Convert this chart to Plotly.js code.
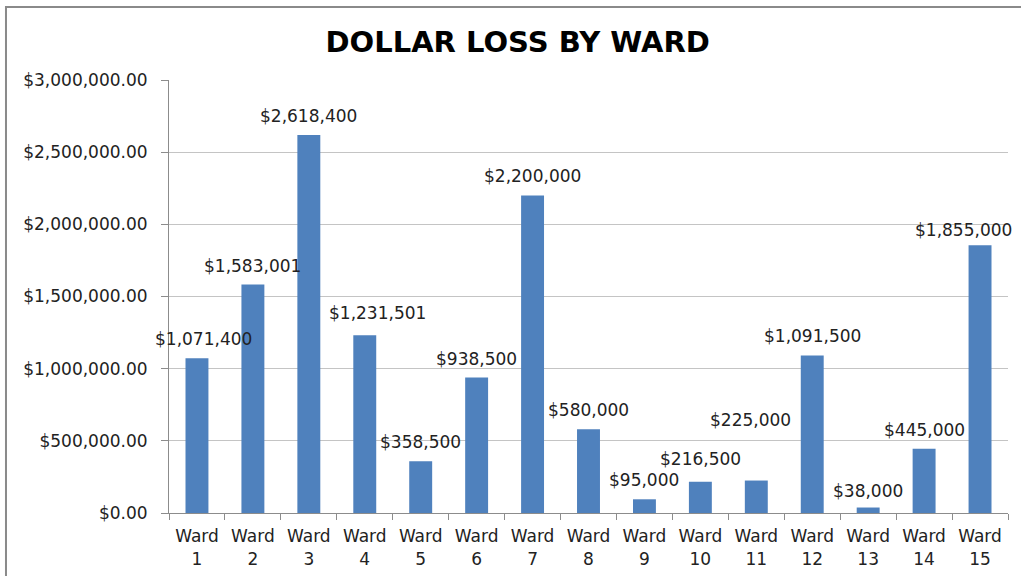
<!DOCTYPE html>
<html>
<head>
<meta charset="utf-8">
<script src="https://cdn.plot.ly/plotly-3.0.1.min.js"></script>
<style>
  html, body { margin: 0; padding: 0; background: #fff; }
  #plotDiv { width: 1021px; height: 576px; }
</style>
</head>
<body>
<div id="plotDiv"></div>
<script>
let wards = ['Ward 1', 'Ward 2', 'Ward 3', 'Ward 4', 'Ward 5', 'Ward 6', 'Ward 7', 'Ward 8',
  'Ward 9', 'Ward 10', 'Ward 11', 'Ward 12', 'Ward 13', 'Ward 14', 'Ward 15'];
let loss = [1071400, 1583001, 2618400, 1231501, 358500, 938500, 2200000, 580000,
  95000, 216500, 225000, 1091500, 38000, 445000, 1855000];

// label nudges (px), Excel moved a few of them around
let labelDx = [7, 0, 0, 13, 0, 0, 0, 0, 0, 0, -6, 0, 0, 0, -17];
let labelDy = [0, 0, 0, 3, 0, 0, 0, 0, 0, 4, 42, 0, -2, 0, -4];

let cats = wards.map((w) => w.replace(' ', '<br>'));
let font = 'DejaVu Sans, Verdana, sans-serif';

let bars = {
  type: 'bar',
  x: cats,
  y: loss,
  marker: { color: '#4F81BD' },
  hoverinfo: 'x+y',
};

let notes = loss.map((v, i) => ({
  x: cats[i],
  y: v,
  text: '$' + v.toLocaleString('en-US'),
  showarrow: false,
  yanchor: 'bottom',
  xshift: labelDx[i],
  yshift: 7 + labelDy[i],
  font: { family: font, size: 17, color: '#222' },
}));

let layout = {
  width: 1021,
  height: 576,
  margin: { l: 169, r: 13, t: 80, b: 63 },
  paper_bgcolor: '#fff',
  plot_bgcolor: '#fff',
  bargap: 0.59,
  showlegend: false,
  title: {
    text: '<b>DOLLAR LOSS BY WARD</b>',
    font: { family: font, size: 29, color: '#000' },
    xref: 'container',
    x: 0.507,
    xanchor: 'center',
    yref: 'container',
    y: 0.928,
    yanchor: 'middle',
  },
  xaxis: {
    type: 'category',
    range: [-0.5, 14.5],
    tickson: 'boundaries',
    ticks: 'outside',
    ticklen: 6,
    tickcolor: '#8c8c8c',
    ticklabelstandoff: 8,
    showline: true,
    linecolor: '#8c8c8c',
    showgrid: false,
    tickfont: { family: font, size: 17, color: '#222' },
  },
  yaxis: {
    range: [0, 3000000],
    dtick: 500000,
    tickformat: '$,.2f',
    ticks: 'outside',
    ticklen: 7,
    tickcolor: '#8c8c8c',
    ticklabelstandoff: 10,
    showline: true,
    linecolor: '#8c8c8c',
    gridcolor: '#c4c4c4',
    zeroline: false,
    tickfont: { family: font, size: 17, color: '#222' },
  },
  annotations: notes,
  shapes: [
    {
      type: 'rect',
      xref: 'paper',
      yref: 'paper',
      x0: -0.1943,
      x1: 1.1,
      y0: -0.3,
      y1: 1.1686,
      line: { color: '#8a8a8a', width: 2 },
      layer: 'below',
    },
  ],
};

Plotly.newPlot('plotDiv', [bars], layout, { displayModeBar: false, staticPlot: true });
</script>
</body>
</html>
